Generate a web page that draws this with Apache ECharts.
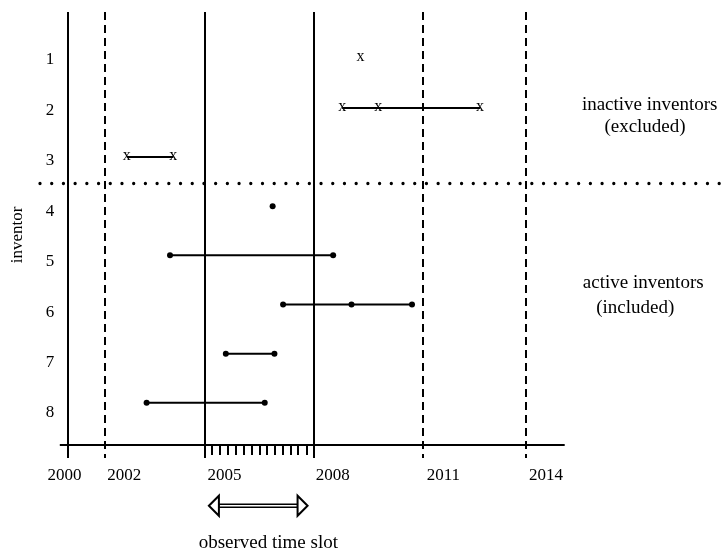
<!DOCTYPE html>
<html>
<head>
<meta charset="utf-8">
<script src="https://cdn.jsdelivr.net/npm/echarts@6/dist/echarts.min.js"></script>
<style>
html,body{margin:0;padding:0;background:#fff;}
#chart{width:721px;height:551px;}
</style>
</head>
<body>
<div id="chart"></div>
<script>
// ---- data (schematic time scale; one unit = one year) ----
const inventorRows = [1, 2, 3, 4, 5, 6, 7, 8];
const inactiveRows = [1, 2, 3];
const activeRows = [4, 5, 6, 7, 8];
// patent filing times for each inventor
const patentsInv1 = [2009.32];
const patentsInv2 = [2008.81, 2009.81, 2012.64];
const patentsInv3 = [2002.83, 2004.12];
const patentsInv4 = [2006.88];
const patentsInv5 = [2004.03, 2008.56];
const patentsInv6 = [2007.17, 2009.07, 2010.75];
const patentsInv7 = [2005.58, 2006.93];
const patentsInv8 = [2003.38, 2006.66];
// reference lines
const solidLines = [2001.20, 2005.00, 2008.01];
const dashedLines = [2002.23, 2011.05, 2013.91];
const minorTicks = [2005.20, 2005.42, 2005.63, 2005.85, 2006.08, 2006.30, 2006.51, 2006.72, 2006.94, 2007.16, 2007.38, 2007.59, 2007.83];
const tickLabelPos = [2001.10, 2002.76, 2005.54, 2008.55, 2011.62, 2014.47];
const tickLabels = ['2000', '2002', '2005', '2008', '2011', '2014'];
const boundaryRow = 3.539;
const axisRow = 8.859;
const observedSlot = [2005.11, 2007.85];

const allPatents = [patentsInv1, patentsInv2, patentsInv3, patentsInv4, patentsInv5, patentsInv6, patentsInv7, patentsInv8];

const FONT = '"Liberation Serif", "Times New Roman", serif';
const xMin = 2000.42, xMax = 2019.33;
const yMin = 0.049, yMax = 9.123;

const chart = echarts.init(document.getElementById('chart'), null, {renderer: 'canvas'});

const markData = [];
solidLines.forEach(v => markData.push({xAxis: v, lineStyle: {type: 'solid', width: 2, color: '#000'}}));
dashedLines.forEach(v => markData.push({xAxis: v, lineStyle: {type: [8, 5], width: 2, color: '#000'}}));
markData.push([{coord: [2000.97, axisRow], lineStyle: {type: 'solid', width: 2, color: '#000'}}, {coord: [2014.99, axisRow]}]);
minorTicks.forEach(v => markData.push([{coord: [v, axisRow], lineStyle: {type: 'solid', width: 2, color: '#000'}}, {coord: [v, 9.063]}]));
markData.push({yAxis: boundaryRow, lineStyle: {type: [0.01, 11.7], cap: 'round', width: 3.3, color: '#000'}});

const series = [{
  type: 'line', data: [], silent: true,
  markLine: {silent: true, symbol: ['none', 'none'], label: {show: false}, animation: false, data: markData}
}];

inventorRows.forEach((row, i) => {
  const active = activeRows.indexOf(row) >= 0;
  series.push({
    type: 'line',
    name: 'inventor ' + row,
    data: allPatents[i].map(t => [t, row]),
    lineStyle: {color: '#000', width: 2},
    symbol: 'circle',
    symbolSize: active ? 6 : 1,
    showSymbol: true,
    itemStyle: {color: active ? '#000' : 'rgba(0,0,0,0)'},
    label: active ? {show: false} : {
      show: true, position: 'inside', formatter: 'x', offset: [0, -1.5],
      fontSize: 16, fontFamily: FONT, color: '#000'
    },
    z: 3
  });
});

const option = {
  animation: false,
  backgroundColor: '#fff',
  grid: {left: 40, right: 0, top: 12, bottom: 93, containLabel: false, outerBoundsMode: 'none'},
  xAxis: {
    type: 'value', min: xMin, max: xMax,
    axisLine: {show: false}, axisTick: {show: false}, splitLine: {show: false},
    axisLabel: {
      customValues: tickLabelPos,
      formatter: function (v) {
        const k = tickLabelPos.findIndex(p => Math.abs(p - v) < 1e-6);
        return k >= 0 ? tickLabels[k] : '';
      },
      margin: 9, fontSize: 17, fontFamily: FONT, color: '#000'
    }
  },
  yAxis: [{
    type: 'value', inverse: true, min: yMin, max: yMax,
    axisLine: {show: false}, axisTick: {show: false}, splitLine: {show: false}, axisLabel: {show: false},
    name: 'inventor', nameLocation: 'middle', nameRotate: 90, nameGap: 14,
    nameTextStyle: {fontSize: 17, fontFamily: FONT, color: '#000'}
  }, {
    type: 'value', inverse: true, min: 0.048, max: 8.892, position: 'left',
    axisLine: {show: false}, axisTick: {show: false}, splitLine: {show: false},
    axisLabel: {customValues: inventorRows, align: 'center', margin: -10, fontSize: 17, fontFamily: FONT, color: '#000'}
  }],
  series: series
};
chart.setOption(option);

const P = (x, y) => chart.convertToPixel({xAxisIndex: 0, yAxisIndex: 0}, [x, y]);
const textEl = (txt, x, y, size) => {
  const p = P(x, y);
  return {type: 'text', silent: true, style: {text: txt, x: p[0], y: p[1], font: size + 'px ' + FONT, fill: '#000', align: 'center', verticalAlign: 'middle'}};
};
const a1 = P(observedSlot[0], 10.094), a2 = P(observedSlot[1], 10.094);
const hw = 10, hh = 10, ay = a1[1];
const graphics = [
  textEl('inactive inventors', 2017.35, 1.941, 19),
  textEl('(excluded)', 2017.22, 2.386, 19),
  textEl('active inventors', 2017.17, 5.564, 19),
  textEl('(included)', 2016.95, 6.081, 19),
  textEl('observed time slot', 2006.76, 10.853, 19),
  {type: 'rect', silent: true, shape: {x: a1[0] + hw, y: ay - 1.5, width: (a2[0] - hw) - (a1[0] + hw), height: 3},
    style: {fill: '#fff', stroke: '#000', lineWidth: 1.3}},
  {type: 'polygon', silent: true, shape: {points: [[a1[0], ay], [a1[0] + hw, ay - hh], [a1[0] + hw, ay + hh]]},
    style: {fill: '#fff', stroke: '#000', lineWidth: 2}},
  {type: 'polygon', silent: true, shape: {points: [[a2[0], ay], [a2[0] - hw, ay - hh], [a2[0] - hw, ay + hh]]},
    style: {fill: '#fff', stroke: '#000', lineWidth: 2}}
];
chart.setOption({graphic: graphics});
</script>
</body>
</html>
